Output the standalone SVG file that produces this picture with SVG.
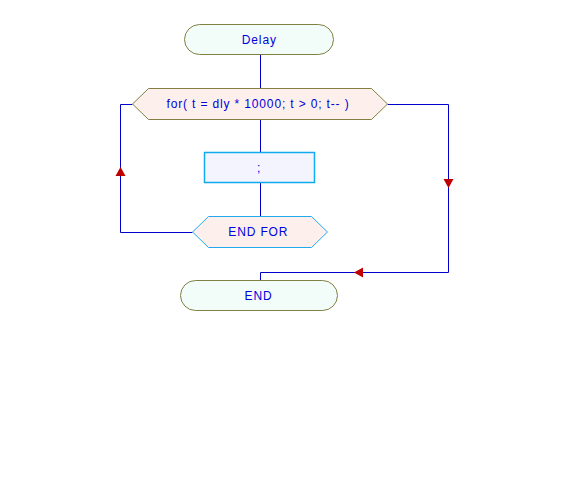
<svg xmlns="http://www.w3.org/2000/svg" width="568" height="480" viewBox="0 0 568 480">
<style>
.term{fill:#f2fcf8;stroke:#808040;stroke-width:1}
.loop{fill:#fdf0ec;stroke:#808040;stroke-width:1}
.loopend{fill:#fdf0ec;stroke:#22aaee;stroke-width:1}
.proc{fill:#f4f4fe;stroke:#11aaee;stroke-width:1.5}
.lbl{font-family:"Liberation Sans",Arial,sans-serif;font-size:12px;letter-spacing:0.85px;fill:#0000dd;text-anchor:middle}
.wire{fill:none;stroke:#0000cc;stroke-width:1}
.arr{fill:#c00000}
</style>
<rect width="568" height="480" fill="#ffffff"/>
<g id="connectors">
<path class="wire" d="M260.5 54.5V88.5"/>
<path class="wire" d="M260.5 119.5V152.5"/>
<path class="wire" d="M260.5 182.5V216.5"/>
<path class="wire" d="M192.5 232.5H120.5V104.5H132.5"/>
<path class="wire" d="M387.5 104.5H448.5V272.5H260.5V280.5"/>
<polygon class="arr" points="120.5,167 115.5,176 125.5,176"/>
<polygon class="arr" points="448.5,188 443.5,179 453.5,179"/>
<polygon class="arr" points="354,272.5 363,267.5 363,277.5"/>
</g>
<g id="start">
<rect class="term" x="184.5" y="24.5" width="149" height="30" rx="15" ry="15"/>
<text class="lbl" x="259.3" y="44">Delay</text>
</g>
<g id="for">
<polygon class="loop" points="132.5,104 148.5,88.5 371.5,88.5 387.5,104 371.5,119.5 148.5,119.5"/>
<text class="lbl" x="258" y="108">for( t = dly * 10000; t &gt; 0; t-- )</text>
</g>
<g id="body">
<rect class="proc" x="204.5" y="152.5" width="110" height="30"/>
<text class="lbl" x="259" y="172">;</text>
</g>
<g id="endfor">
<polygon class="loopend" points="192.5,232 208.5,216.5 311.5,216.5 327.5,232 311.5,247.5 208.5,247.5"/>
<text class="lbl" x="258.3" y="236">END FOR</text>
</g>
<g id="end">
<rect class="term" x="180.5" y="280.5" width="157" height="30" rx="15" ry="15"/>
<text class="lbl" x="258.5" y="300">END</text>
</g>
</svg>
